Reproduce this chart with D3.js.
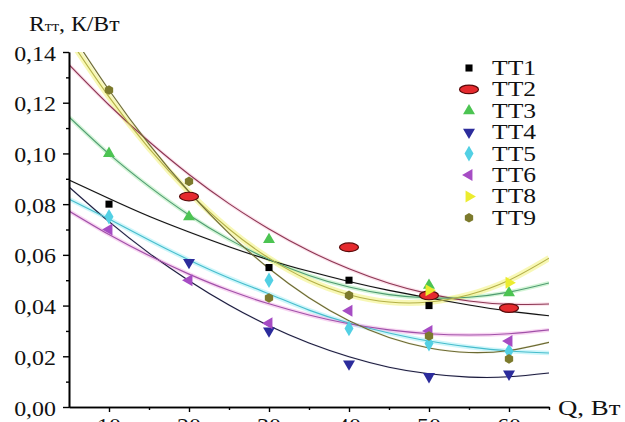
<!DOCTYPE html>
<html>
<head>
<meta charset="utf-8">
<script src="https://cdn.jsdelivr.net/npm/d3@7"></script>
<style>
  html, body { margin: 0; padding: 0; background: #fff; }
  svg { display: block; }
  text { font-family: "Liberation Serif", "Times New Roman", serif; fill: #111; }
</style>
</head>
<body>
<svg id="chart" width="625" height="422"></svg>
<script>
// ---------- data ----------
const xTicks = [10, 20, 30, 40, 50, 60];
const xMinor = [15, 25, 35, 45, 55, 65];
const yTicks = [0, 0.02, 0.04, 0.06, 0.08, 0.10, 0.12, 0.14];
const yMinor = [0.01, 0.03, 0.05, 0.07, 0.09, 0.11, 0.13];
const seriesNames = ["ТТ1", "ТТ2", "ТТ3", "ТТ4", "ТТ5", "ТТ6", "ТТ8", "ТТ9"];

// measured points
const tt1Q = [10, 30, 40, 50];            const tt1R = [0.080, 0.055, 0.050, 0.040];
const tt2Q = [20, 40, 50, 60];            const tt2R = [0.083, 0.063, 0.044, 0.039];
const tt3Q = [10, 20, 30, 50, 60];        const tt3R = [0.100, 0.075, 0.066, 0.048, 0.045];
const tt4Q = [20, 30, 40, 50, 60];        const tt4R = [0.057, 0.030, 0.017, 0.012, 0.013];
const tt5Q = [10, 30, 40, 50, 60];        const tt5R = [0.075, 0.050, 0.031, 0.025, 0.022];
const tt6Q = [10, 20, 30, 40, 50, 60];    const tt6R = [0.070, 0.050, 0.033, 0.038, 0.030, 0.026];
const tt8Q = [50, 60];                    const tt8R = [0.046, 0.049];
const tt9Q = [10, 20, 30, 40, 50, 60];    const tt9R = [0.125, 0.089, 0.043, 0.044, 0.028, 0.019];

// trend curves at Q = 5, 10, ..., 65
const fitQ   = [5, 10, 15, 20, 25, 30, 35, 40, 45, 50, 55, 60, 65];
const tt1Fit = [0.0895, 0.0822, 0.0752, 0.0690, 0.0632, 0.0580, 0.0535, 0.0495, 0.0460, 0.0430, 0.0402, 0.0378, 0.0360];
const tt2Fit = [0.1350, 0.1191, 0.1047, 0.0917, 0.0802, 0.0702, 0.0616, 0.0545, 0.0488, 0.0446, 0.0418, 0.0405, 0.0406];
const tt3Fit = [0.1144, 0.0998, 0.0870, 0.0757, 0.0661, 0.0582, 0.0519, 0.0473, 0.0443, 0.0430, 0.0433, 0.0453, 0.0489];
const tt4Fit = [0.0868, 0.0731, 0.0607, 0.0498, 0.0402, 0.0320, 0.0252, 0.0198, 0.0157, 0.0131, 0.0118, 0.0119, 0.0134];
const tt5Fit = [0.0820, 0.0741, 0.0659, 0.0580, 0.0509, 0.0446, 0.0382, 0.0331, 0.0292, 0.0260, 0.0237, 0.0221, 0.0213];
const tt6Fit = [0.0773, 0.0680, 0.0597, 0.0524, 0.0460, 0.0407, 0.0363, 0.0328, 0.0304, 0.0289, 0.0284, 0.0289, 0.0304];
const tt8Fit = [0.1454, 0.1223, 0.1020, 0.0847, 0.0702, 0.0587, 0.0500, 0.0443, 0.0414, 0.0414, 0.0443, 0.0500, 0.0587];
const tt9Fit = [0.1487, 0.1250, 0.1037, 0.0849, 0.0685, 0.0546, 0.0431, 0.0340, 0.0274, 0.0233, 0.0215, 0.0223, 0.0255];

// ---------- styles ----------
const hexagon = {
  draw(ctx, size) {
    const r = Math.sqrt(size / 2.598);
    for (let i = 0; i < 6; i++) {
      const a = Math.PI / 3 * i + Math.PI / 6;
      const px = r * Math.cos(a), py = r * Math.sin(a);
      if (i === 0) ctx.moveTo(px, py); else ctx.lineTo(px, py);
    }
    ctx.closePath();
  }
};
const styles = [
  { q: tt1Q, r: tt1R, fit: tt1Fit, fill: "#000000", core: "#111111", halo: "#cccccc", haloW: 2, haloO: 0.4, type: d3.symbolSquare, size: 50, rot: 0 },
  { q: tt2Q, r: tt2R, fit: tt2Fit, fill: "#e52a2e", core: "#8c3652", halo: "#f4b4cc", haloW: 3.5, haloO: 0.4, type: "ellipse", size: 0, rot: 0 },
  { q: tt3Q, r: tt3R, fit: tt3Fit, fill: "#4cc452", core: "#4f9a72", halo: "#a6ecac", haloW: 4, haloO: 0.5, type: d3.symbolTriangle, size: 62, rot: 0 },
  { q: tt4Q, r: tt4R, fit: tt4Fit, fill: "#2c2c9c", core: "#1c1c3c", halo: "#c8c8e0", haloW: 2, haloO: 0.4, type: d3.symbolTriangle, size: 62, rot: 180 },
  { q: tt5Q, r: tt5R, fit: tt5Fit, fill: "#52d0e4", core: "#46bccc", halo: "#a6eef6", haloW: 4.5, haloO: 0.55, type: d3.symbolDiamond, size: 70, rot: 0 },
  { q: tt6Q, r: tt6R, fit: tt6Fit, fill: "#a64cc4", core: "#a050a8", halo: "#f2aee6", haloW: 4, haloO: 0.5, type: d3.symbolTriangle, size: 62, rot: -90 },
  { q: tt8Q, r: tt8R, fit: tt8Fit, fill: "#ecec2e", core: "#b4b048", halo: "#f2f27a", haloW: 6, haloO: 0.55, type: d3.symbolTriangle, size: 62, rot: 90 },
  { q: tt9Q, r: tt9R, fit: tt9Fit, fill: "#7c7a2c", core: "#6c6a34", halo: "#dedcb0", haloW: 2, haloO: 0.4, type: hexagon, size: 60, rot: 0 }
];

// ---------- chart ----------
const svg = d3.select("#chart");
const x = d3.scaleLinear().domain([5, 65]).range([69, 549]);
const y = d3.scaleLinear().domain([0, 0.14]).range([407, 52]);
const fmt = v => d3.format(".2f")(v).replace(".", ",");

svg.append("defs").append("clipPath").attr("id", "plotclip")
  .append("rect").attr("x", 69).attr("y", 52).attr("width", 480).attr("height", 355);

// trend lines
const lineGen = d3.line().x(d => x(d[0])).y(d => y(d[1])).curve(d3.curveNatural);
const lines = svg.append("g").attr("clip-path", "url(#plotclip)");
styles.forEach(s => {
  const pts = fitQ.map((q, i) => [q, s.fit[i]]);
  lines.append("path").attr("d", lineGen(pts)).attr("fill", "none")
    .attr("stroke", s.halo).attr("stroke-width", s.haloW).attr("stroke-opacity", s.haloO);
});
styles.forEach(s => {
  const pts = fitQ.map((q, i) => [q, s.fit[i]]);
  lines.append("path").attr("d", lineGen(pts)).attr("fill", "none")
    .attr("stroke", s.core).attr("stroke-width", 1.1);
});

// markers
function drawMarker(g, s, cx, cy) {
  if (s.type === "ellipse") {
    g.append("ellipse").attr("cx", cx).attr("cy", cy).attr("rx", 9.5).attr("ry", 4.3)
      .attr("fill", s.fill).attr("stroke", "#5a0a0a").attr("stroke-width", 1.2);
  } else {
    g.append("path").attr("d", d3.symbol().type(s.type).size(s.size)())
      .attr("transform", `translate(${cx},${cy}) rotate(${s.rot})`)
      .attr("fill", s.fill);
  }
}
const marks = svg.append("g");
styles.forEach(s => {
  s.q.forEach((q, i) => drawMarker(marks, s, x(q), y(s.r[i])));
});

// axes
const axisStyle = g => {
  g.selectAll("path.domain").attr("stroke", "#000").attr("stroke-width", 1.6);
  g.selectAll(".tick line").attr("stroke", "#000").attr("stroke-width", 1.4);
  g.selectAll(".tick text").remove();
};
svg.append("g").attr("transform", "translate(69,0)")
  .call(d3.axisLeft(y).tickValues(yMinor).tickSize(3).tickSizeOuter(0).tickFormat(""))
  .call(axisStyle);
svg.append("g").attr("transform", "translate(69,0)")
  .call(d3.axisLeft(y).tickValues(yTicks).tickSize(6).tickSizeOuter(0).tickFormat(""))
  .call(axisStyle);
svg.append("g").attr("transform", "translate(0,407)")
  .call(d3.axisBottom(x).tickValues(xMinor).tickSize(3).tickSizeOuter(0).tickFormat(""))
  .call(axisStyle);
svg.append("g").attr("transform", "translate(0,407)")
  .call(d3.axisBottom(x).tickValues(xTicks).tickSize(5).tickSizeOuter(0).tickFormat(""))
  .call(axisStyle);

// tick labels
svg.append("g").selectAll("text").data(yTicks).join("text")
  .attr("transform", d => `translate(56,${y(d) + 8.5}) scale(1.14,1)`)
  .attr("text-anchor", "end").style("font-size", "21px").text(fmt);
svg.append("g").selectAll("text").data(xTicks).join("text")
  .attr("transform", d => `translate(${x(d)},433) scale(1.14,1)`)
  .attr("text-anchor", "middle").style("font-size", "21px").text(d => d);

// axis titles
const t = svg.append("text").attr("transform", "translate(29,31) scale(1.08,1)").style("font-size", "22px");
t.append("tspan").text("R");
t.append("tspan").style("font-size", "15px").text("тт");
t.append("tspan").text(", К/Вт");
svg.append("text").attr("transform", "translate(558,415) scale(1.22,1)")
  .style("font-size", "22px").text("Q, Вт");

// legend
const leg = svg.append("g");
seriesNames.forEach((name, i) => {
  const ry = 68 + i * 21.4;
  drawMarker(leg, styles[i], 469, ry);
  leg.append("text").attr("transform", `translate(492,${ry + 7}) scale(1.22,1)`)
    .style("font-size", "21px").text(name);
});
</script>
</body>
</html>
